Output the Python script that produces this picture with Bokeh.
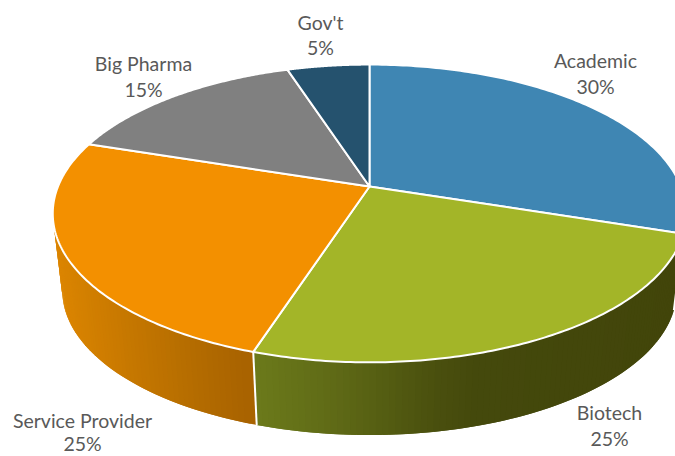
import numpy as np
from bokeh.core.properties import value
from bokeh.embed import file_html
from bokeh.models import Range1d
from bokeh.plotting import figure
from bokeh.resources import INLINE

categories = ["Academic", "Biotech", "Service Provider", "Big Pharma", "Gov't"]
shares = [30, 25, 25, 15, 5]

top_colors = ["#3f86b3", "#a3b528", "#f39000", "#808080", "#25526e"]
wall_stops = [
    [(660, "#2c5f80"), (700, "#2c5f80")],
    [(256, "#6c7b1b"), (340, "#5f6a16"), (440, "#4a500e"), (480, "#44490c"), (680, "#42450a")],
    [(54, "#dd8600"), (130, "#c77800"), (200, "#b46c00"), (254, "#a86300")],
]
label_pos = [(595, 60, 86), (609, 412, 438), (82, 420, 443), (143, 63, 89), (320, 22, 47)]

CX, CY, A, B, K = 369.0, 186.0, 311.5, 144.0, 0.181
DEPTH, SHRINK = 78.0, 0.97


def rim(phi, depth=0.0, scale=1.0):
    d = 1 + K * np.cos(phi)
    return CX + scale * A * np.sin(phi) / d, CY + depth - scale * B * np.cos(phi) / d


def hex2rgb(c):
    return np.array([int(c[i:i + 2], 16) for i in (1, 3, 5)], float)


def wall_color(stops, x):
    xs = [s[0] for s in stops]
    rgb = np.array([hex2rgb(s[1]) for s in stops])
    vals = [np.interp(x, xs, rgb[:, i]) for i in range(3)]
    return "#%02x%02x%02x" % tuple(int(round(v)) for v in vals)


edges = np.radians(np.cumsum([0] + shares) * 3.6)

p = figure(width=675, height=456, output_backend="svg", toolbar_location=None,
           x_range=Range1d(0, 675), y_range=Range1d(456, 0),
           min_border=0, outline_line_color=None)
p.axis.visible = False
p.grid.visible = False

# side wall, drawn as overlapping strips carrying the horizontal shading
wx, wy, wc = [], [], []
for i, stops in enumerate(wall_stops):
    lo = max(edges[i], np.radians(80))
    hi = min(edges[i + 1], np.radians(285))
    steps = max(2, int(np.degrees(hi - lo)))
    ph = np.linspace(lo, hi, steps + 1)
    dphi = ph[1] - ph[0]
    # walk from the far end so each strip overlaps the previous one
    for a in ph[:-1][::-1]:
        b = min(a + 2 * dphi, hi)
        x1, y1 = rim(a)
        x2, y2 = rim(b)
        x3, y3 = rim(b, DEPTH, SHRINK)
        x4, y4 = rim(a, DEPTH, SHRINK)
        xa, _ = rim(a + dphi / 2, DEPTH / 2, (1 + SHRINK) / 2)
        wx.append([x1, x2, x3, x4])
        wy.append([y1, y2, y3, y4])
        wc.append(wall_color(stops, xa))
p.patches(wx, wy, fill_color=wc, line_color=None)

# white seams on the wall
for e in edges[1:3]:
    x1, y1 = rim(e)
    x2, y2 = rim(e, DEPTH, SHRINK)
    p.line([x1, x2], [y1, y2], line_color="white", line_width=2)

# top face
for i, col in enumerate(top_colors):
    ph = np.linspace(edges[i], edges[i + 1], 120)
    x, y = rim(ph)
    p.patch(np.r_[CX, x], np.r_[CY, y], fill_color=col, line_color="white",
            line_width=2, line_join="round")

for cat, share, (lx, y1, y2) in zip(categories, shares, label_pos):
    p.text([lx, lx], [y1, y2], text=[cat, f"{share}%"], text_font=value("Lato"),
           text_font_size="19.5px", text_color="#595959", text_align="center",
           text_baseline="middle")

open("out.html", "w").write(file_html(p, INLINE))
